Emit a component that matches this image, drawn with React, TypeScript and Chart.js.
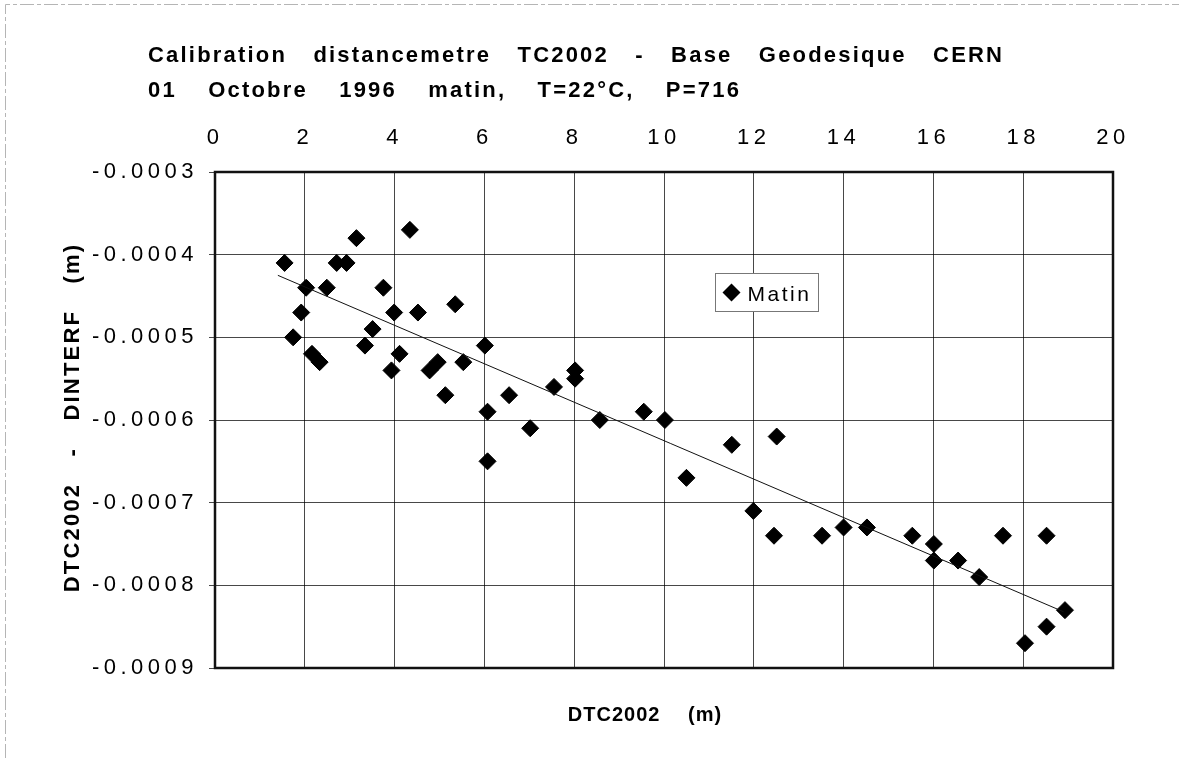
import React, { useEffect, useRef } from 'react';
import { Chart, registerables } from 'chart.js';

Chart.register(...registerables);

const titleLines = [
  'Calibration distancemetre TC2002 - Base Geodesique CERN',
  '01 Octobre 1996 matin, T=22°C, P=716',
];
const xAxisTitle = 'DTC2002 (m)';
const yAxisTitle = 'DTC2002 - DINTERF (m)';
const seriesLabel = 'Matin';

const xTicks = [0, 2, 4, 6, 8, 10, 12, 14, 16, 18, 20];
const yTicks = [-0.0009, -0.0008, -0.0007, -0.0006, -0.0005, -0.0004, -0.0003];

const xValues = [
  1.55, 2.03, 2.49, 1.92, 1.74, 2.16, 2.33, 2.71, 2.93, 3.15,
  4.34, 3.75, 3.99, 4.52, 5.35, 3.51, 3.34, 4.11, 3.93, 4.78,
  4.96, 5.53, 6.01, 5.13, 6.07, 6.07, 6.55, 7.02, 7.55, 8.02,
  8.02, 8.57, 9.55, 10.02, 10.5, 11.51, 12.51, 11.99, 12.45, 13.52,
  14.0, 14.52, 15.53, 16.01, 16.01, 16.55, 17.02, 17.55, 18.52, 18.93,
  18.52, 18.04,
];
const yValues = [
  -0.00041, -0.00044, -0.00044, -0.00047, -0.0005, -0.00052, -0.00053, -0.00041, -0.00041, -0.00038,
  -0.00037, -0.00044, -0.00047, -0.00047, -0.00046, -0.00049, -0.00051, -0.00052, -0.00054, -0.00054,
  -0.00053, -0.00053, -0.00051, -0.00057, -0.00059, -0.00065, -0.00057, -0.00061, -0.00056, -0.00054,
  -0.00055, -0.0006, -0.00059, -0.0006, -0.00067, -0.00063, -0.00062, -0.00071, -0.00074, -0.00074,
  -0.00073, -0.00073, -0.00074, -0.00075, -0.00077, -0.00077, -0.00079, -0.00074, -0.00074, -0.00083,
  -0.00085, -0.00087,
];

const trendX = [1.4, 18.9];
const trendY = [-0.000425, -0.000832];

const FONT = '"Liberation Sans", Arial, Helvetica, sans-serif';

const decor = {
  id: 'decor',
  beforeDraw(chart: any) {
    const ctx = chart.ctx;
    ctx.save();
    ctx.fillStyle = '#ffffff';
    ctx.fillRect(0, 0, chart.width, chart.height);
    ctx.restore();
    (ctx as any).letterSpacing = '4.5px';
    (ctx as any).wordSpacing = '0px';
  },
  afterDraw(chart: any) {
    const ctx = chart.ctx;
    const a = chart.chartArea;
    ctx.save();
    // outer faint frame
    ctx.strokeStyle = '#b5b5b5';
    ctx.lineWidth = 1;
    ctx.setLineDash([14, 3, 4, 3]);
    ctx.beginPath();
    ctx.moveTo(5.5, chart.height);
    ctx.lineTo(5.5, 4.5);
    ctx.lineTo(chart.width, 4.5);
    ctx.stroke();
    ctx.setLineDash([]);

    // plot border
    ctx.strokeStyle = '#111';
    ctx.lineWidth = 2.5;
    ctx.strokeRect(a.left, a.top, a.right - a.left, a.bottom - a.top);

    // titles
    ctx.fillStyle = '#000';
    (ctx as any).letterSpacing = '2.2px';
    (ctx as any).wordSpacing = '18px';
    ctx.font = 'bold 22px ' + FONT;
    ctx.textAlign = 'left';
    ctx.textBaseline = 'alphabetic';
    ctx.fillText(titleLines[0], 148, 62);
    (ctx as any).wordSpacing = '23px';
    ctx.fillText(titleLines[1], 148, 97);
    (ctx as any).wordSpacing = '18px';

    ctx.save();
    ctx.translate(79, 417.5);
    ctx.rotate(-Math.PI / 2);
    ctx.textAlign = 'center';
    ctx.fillText(yAxisTitle, 0, 0);
    ctx.restore();

    (ctx as any).letterSpacing = '1px';
    (ctx as any).wordSpacing = '21px';
    ctx.font = 'bold 20px ' + FONT;
    ctx.textAlign = 'center';
    ctx.fillText(xAxisTitle, 645, 721);

    // legend
    const lx = 715.5, ly = 273.5, lw = 103, lh = 38;
    ctx.fillStyle = '#fff';
    ctx.fillRect(lx, ly, lw, lh);
    ctx.strokeStyle = '#777';
    ctx.lineWidth = 1;
    ctx.strokeRect(lx, ly, lw, lh);
    const cx = lx + 16, cy = ly + 19, r = 9;
    ctx.fillStyle = '#000';
    ctx.beginPath();
    ctx.moveTo(cx - r, cy);
    ctx.lineTo(cx, cy - r);
    ctx.lineTo(cx + r, cy);
    ctx.lineTo(cx, cy + r);
    ctx.closePath();
    ctx.fill();
    (ctx as any).wordSpacing = '0px';
    (ctx as any).letterSpacing = '2.5px';
    ctx.font = '21px ' + FONT;
    ctx.textAlign = 'left';
    ctx.fillText(seriesLabel, lx + 32, ly + 27);
    ctx.restore();
  },
};

export default function App() {
  const ref = useRef<HTMLCanvasElement | null>(null);
  useEffect(() => {
    if (!ref.current) return;
    const points = xValues.map((x, i) => ({ x, y: yValues[i] }));
    const trend = trendX.map((x, i) => ({ x, y: trendY[i] }));
    const chart = new Chart(ref.current, {
      type: 'scatter',
      data: {
        datasets: [
          {
            label: 'trend',
            data: trend,
            showLine: true,
            borderColor: '#111',
            borderWidth: 1,
            pointRadius: 0,
            fill: false,
          } as any,
          {
            label: seriesLabel,
            data: points,
            pointStyle: 'rectRot',
            pointRadius: 8.5,
            backgroundColor: '#000',
            borderColor: '#000',
            borderWidth: 1,
          } as any,
        ],
      },
      options: {
        responsive: false,
        animation: false,
        devicePixelRatio: 1,
        layout: { padding: { top: 112, right: 66, bottom: 90, left: 0 } },
        plugins: {
          legend: { display: false },
          title: { display: false },
          tooltip: { enabled: false },
        },
        scales: {
          x: {
            type: 'linear',
            position: 'top',
            min: 0,
            max: 20,
            afterBuildTicks: (s: any) => {
              s.ticks = xTicks.map((v) => ({ value: v }));
            },
            afterFit: (s: any) => {
              s.height = 60;
            },
            border: { display: false },
            grid: { color: 'rgba(0,0,0,0.72)', lineWidth: 1, drawTicks: false },
            ticks: {
              autoSkip: false,
              maxRotation: 0,
              padding: 21,
              color: '#000',
              font: { family: FONT, size: 22 },
              callback: (v: any) => String(v),
            },
          },
          y: {
            type: 'linear',
            position: 'left',
            min: -0.0009,
            max: -0.0003,
            afterBuildTicks: (s: any) => {
              s.ticks = yTicks.map((v) => ({ value: v }));
            },
            afterFit: (s: any) => {
              s.width = 215;
            },
            border: { display: false },
            grid: { color: 'rgba(0,0,0,0.72)', lineWidth: 1, drawTicks: true, tickLength: 6 },
            ticks: {
              autoSkip: false,
              padding: 11,
              color: '#000',
              font: { family: FONT, size: 22 },
              callback: (v: any) => Number(v).toFixed(4),
            },
          },
        },
      },
      plugins: [decor],
    });
    return () => chart.destroy();
  }, []);
  return (
    <div style={{ position: 'absolute', left: 0, top: 0, width: 1179, height: 758, background: '#fff' }}>
      <canvas ref={ref} width={1179} height={758} style={{ display: 'block' }} />
    </div>
  );
}
